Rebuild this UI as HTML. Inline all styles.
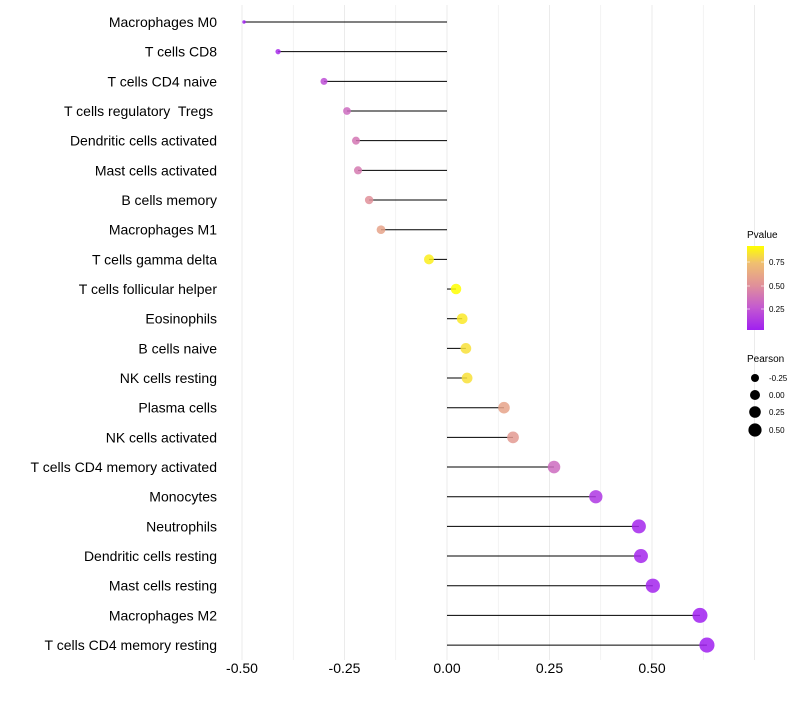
<!DOCTYPE html>
<html><head><meta charset="utf-8"><style>
body{margin:0;background:#fff;font-family:"Liberation Sans",sans-serif}
</style></head><body>
<svg id="chart" width="800" height="700" xmlns="http://www.w3.org/2000/svg" font-family="Liberation Sans, sans-serif">
<defs><linearGradient id="pg" x1="0" y1="1" x2="0" y2="0">
<stop offset="0" stop-color="#a020f0"/><stop offset="0.27" stop-color="#c45ad0"/><stop offset="0.53" stop-color="#e0909a"/><stop offset="0.8" stop-color="#f0c070"/><stop offset="1" stop-color="#ffff00"/></linearGradient></defs>
<g id="grid"></g>
<g id="marks"></g>
<g id="ylab"></g>
<g id="xlab"></g>
<g>
<text x="747" y="238" font-size="10">Pvalue</text>
<rect x="747" y="246" width="17" height="84" fill="url(#pg)"/>
<line x1="747" x2="750" y1="262" y2="262" stroke="#fff" opacity="0.6"/><line x1="761" x2="764" y1="262" y2="262" stroke="#fff" opacity="0.6"/>
<line x1="747" x2="750" y1="286" y2="286" stroke="#fff" opacity="0.6"/><line x1="761" x2="764" y1="286" y2="286" stroke="#fff" opacity="0.6"/>
<line x1="747" x2="750" y1="309" y2="309" stroke="#fff" opacity="0.6"/><line x1="761" x2="764" y1="309" y2="309" stroke="#fff" opacity="0.6"/>
<text x="769" y="265" font-size="8">0.75</text><text x="769" y="289" font-size="8">0.50</text><text x="769" y="312" font-size="8">0.25</text>
</g>
<g>
<text x="747" y="362" font-size="10">Pearson</text>
<circle cx="755" cy="378" r="4"/><text x="769" y="381" font-size="8">-0.25</text>
<circle cx="755" cy="395" r="5"/><text x="769" y="398" font-size="8">0.00</text>
<circle cx="755" cy="412" r="5.8"/><text x="769" y="415" font-size="8">0.25</text>
<circle cx="755" cy="430" r="6.6"/><text x="769" y="433" font-size="8">0.50</text>
</g>
</svg>
<script>
const categories=["Macrophages M0","T cells CD8","T cells CD4 naive","T cells regulatory  Tregs ","Dendritic cells activated","Mast cells activated","B cells memory","Macrophages M1","T cells gamma delta","T cells follicular helper","Eosinophils","B cells naive","NK cells resting","Plasma cells","NK cells activated","T cells CD4 memory activated","Monocytes","Neutrophils","Dendritic cells resting","Mast cells resting","Macrophages M2","T cells CD4 memory resting"];
const pearson=[-0.495,-0.412,-0.30,-0.244,-0.222,-0.217,-0.19,-0.161,-0.044,0.022,0.037,0.046,0.049,0.139,0.161,0.261,0.363,0.468,0.473,0.502,0.617,0.634];
const pvalue=[0.0,0.05,0.2,0.33,0.38,0.4,0.5,0.6,0.9,0.95,0.88,0.85,0.85,0.6,0.55,0.33,0.1,0.03,0.03,0.02,0.0,0.0];
const xTicks=[-0.5,-0.25,0,0.25,0.5];
const xTickLabels=["-0.50","-0.25","0.00","0.25","0.50"];
const NS="http://www.w3.org/2000/svg";
const x=v=>447+v*410;
const y=i=>22+i*29.67;
function mk(t,a,p){const e=document.createElementNS(NS,t);for(const k in a)e.setAttribute(k,a[k]);p.appendChild(e);return e;}
const stops=[[0,[160,32,240]],[0.25,[196,90,208]],[0.5,[224,144,154]],[0.75,[240,192,112]],[0.95,[255,255,0]]];
function col(p){for(let i=1;i<stops.length;i++){if(p<=stops[i][0]||i==stops.length-1){const a=stops[i-1],b=stops[i];let t=Math.min(1,Math.max(0,(p-a[0])/(b[0]-a[0])));return"rgb("+a[1].map((c,j)=>Math.round(c+(b[1][j]-c)*t)).join(",")+")";}}}
const rad=v=>Math.sqrt(Math.max(1,3+(v+0.495)*48));
const g=document.getElementById('grid');
for(let v=-0.5;v<=0.76;v+=0.125){const l=mk('line',{x1:x(v),x2:x(v),y1:5,y2:660,stroke:'#ebebeb','stroke-width':Math.abs(v*4-Math.round(v*4))<1e-6?1:0.6},g);

}
const m=document.getElementById('marks');
categories.forEach((c,i)=>{
const s=mk('line',{x1:x(0),x2:x(pearson[i]),y1:y(i),y2:y(i),stroke:'#000','stroke-width':1},m);


const d=mk('circle',{cx:x(pearson[i]),cy:y(i),r:rad(pearson[i]),fill:col(pvalue[i]),'fill-opacity':0.85},m);


const t=mk('text',{x:217,y:y(i)+5,'text-anchor':'end','font-size':14,fill:'#000'},document.getElementById('ylab'));
t.setAttribute('xml:space','preserve');
t.style.whiteSpace='pre';
t.textContent=c;


});
xTicks.forEach((v,i)=>{const t=mk('text',{x:x(v),y:673,'text-anchor':'middle','font-size':14,fill:'#000'},document.getElementById('xlab'));
t.textContent=xTickLabels[i];

});
</script>
</body></html>
